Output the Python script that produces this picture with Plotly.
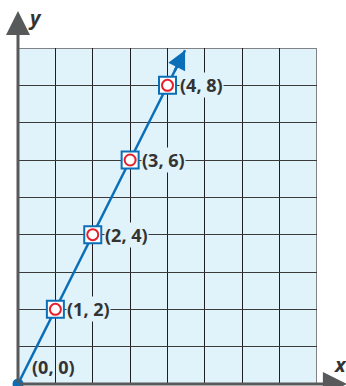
import plotly.graph_objects as go

# Points on the line y = 2x
xs = [0, 1, 2, 3, 4]
ys = [0, 2, 4, 6, 8]
labels = ["(0, 0)", "(1, 2)", "(2, 4)", "(3, 6)", "(4, 8)"]
line_end_x = 4.47  # where the arrowed line stops

X_MAX, Y_MAX = 8, 9
BLUE = "#0b6fb8"
RED = "#e5202a"
AXIS = "#58595b"
TEXT = "#333333"
BG = "#e0f2fa"
FONT = "Open Sans"

fig = go.Figure()

# line through the points, continued to the arrow tip
fig.add_trace(go.Scatter(
    x=[0, line_end_x], y=[0, 2 * line_end_x], mode="lines",
    line=dict(color=BLUE, width=2.5), hoverinfo="skip", cliponaxis=False))

# square markers with red rings for the labelled points
fig.add_trace(go.Scatter(
    x=xs[1:], y=ys[1:], mode="markers",
    marker=dict(symbol="square", size=17, color="white",
                line=dict(color=BLUE, width=2)), hoverinfo="skip"))
fig.add_trace(go.Scatter(
    x=xs[1:], y=ys[1:], mode="markers",
    marker=dict(symbol="circle", size=11, color="white",
                line=dict(color=RED, width=2)), hoverinfo="skip"))

# origin dot
fig.add_trace(go.Scatter(
    x=[xs[0]], y=[ys[0]], mode="markers",
    marker=dict(symbol="circle", size=11, color=BLUE), hoverinfo="skip",
    cliponaxis=False))

label_font = dict(family=FONT, size=18, color=TEXT, weight="bold")
annotations = []
# point labels
for i, (px, py, t) in enumerate(zip(xs, ys, labels)):
    if i == 0:
        annotations.append(dict(x=px, y=py, xref="x", yref="y", text=t,
                                showarrow=False, xanchor="left", yanchor="middle",
                                xshift=12, yshift=17, font=label_font))
    else:
        annotations.append(dict(x=px, y=py, xref="x", yref="y", text=t,
                                showarrow=False, xanchor="left", yanchor="middle",
                                xshift=11, yshift=0, bgcolor=BG, borderpad=0,
                                font=label_font))

# arrow head at the end of the line
annotations.append(dict(x=line_end_x, y=2 * line_end_x, ax=line_end_x - 0.3, ay=2 * (line_end_x - 0.3),
                        xref="x", yref="y", axref="x", ayref="y", text="",
                        showarrow=True, arrowhead=2, arrowsize=1.5, arrowwidth=2.5,
                        arrowcolor=BLUE))

# y axis with arrow
annotations.append(dict(x=0, y=9.99, ax=0, ay=0, xref="x", yref="y", axref="x", ayref="y",
                        text="", showarrow=True, arrowhead=2, arrowsize=1.6,
                        arrowwidth=3, arrowcolor=AXIS))
# x axis with arrow
annotations.append(dict(x=8.8, y=0, ax=0, ay=0, xref="x", yref="y", axref="x", ayref="y",
                        text="", showarrow=True, arrowhead=2, arrowsize=1.6,
                        arrowwidth=3, arrowcolor=AXIS))
# axis names
annotations.append(dict(x=0.057, y=1.09, xref="paper", yref="paper", text="<i>y</i>",
                        showarrow=False, xanchor="center", yanchor="middle",
                        font=dict(family=FONT, size=20, color=TEXT, weight="bold")))
annotations.append(dict(x=1.08, y=0.058, xref="paper", yref="paper", text="<i>x</i>",
                        showarrow=False, xanchor="center", yanchor="middle",
                        font=dict(family=FONT, size=20, color=TEXT, weight="bold")))

fig.update_layout(
    width=346, height=386,
    margin=dict(l=18, r=29, t=48, b=2),
    paper_bgcolor="white", plot_bgcolor=BG,
    showlegend=False,
    annotations=annotations,
    shapes=[dict(type="rect", xref="x", yref="y", x0=0, y0=0, x1=X_MAX, y1=Y_MAX,
                 line=dict(color="#808285", width=2), layer="below")],
)
fig.update_xaxes(range=[0, X_MAX], dtick=1, showticklabels=False, ticks="",
                 showgrid=True, gridcolor="#1f1f1f", gridwidth=1.4, zeroline=False,
                 fixedrange=True)
fig.update_yaxes(range=[0, Y_MAX], dtick=1, showticklabels=False, ticks="",
                 showgrid=True, gridcolor="#3a3a3a", gridwidth=1.4, zeroline=False,
                 fixedrange=True)

fig.write_html("out.html")
